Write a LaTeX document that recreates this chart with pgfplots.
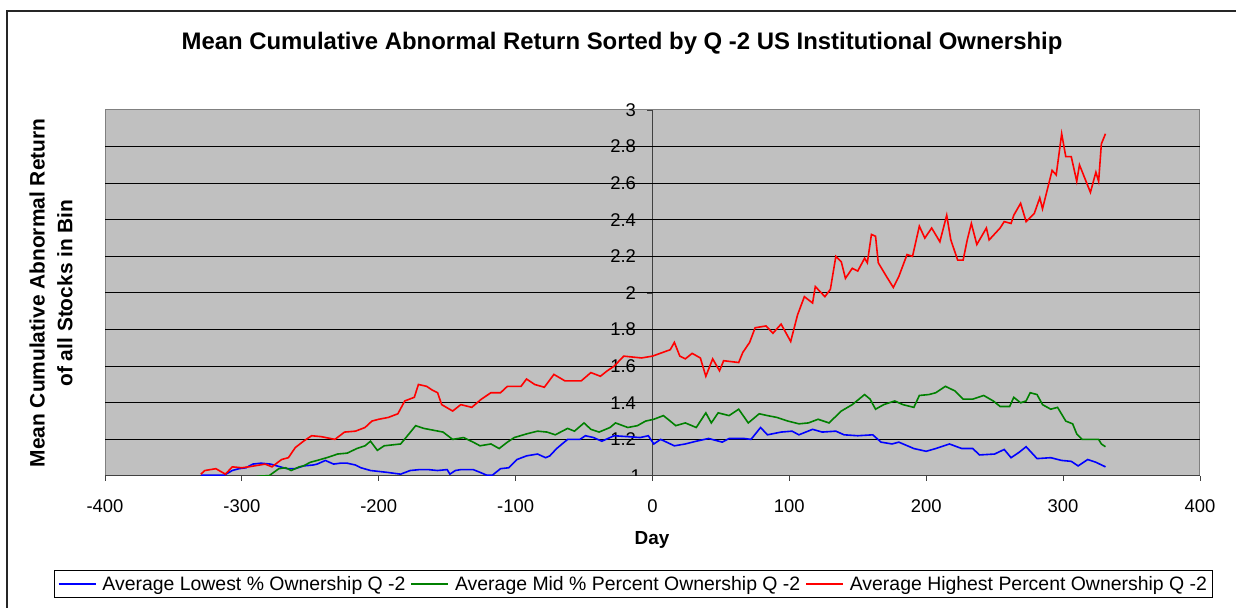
\documentclass[border=0pt]{standalone}
\usepackage{pgfplots}
\pgfplotsset{compat=1.18}
\usepackage{pgfplotstable}
\usepackage{fontspec}
\setmainfont{Liberation Sans}
\definecolor{plotgray}{HTML}{C0C0C0}
\definecolor{xlblue}{HTML}{0000FF}
\definecolor{xlgreen}{HTML}{008000}
\definecolor{xlred}{HTML}{FF0000}

\pgfplotstableread{
day val
-330 1.004
-320 1.004
-313 1.004
-307 1.03
-302 1.04
-297 1.045
-292 1.065
-286 1.07
-279 1.065
-272 1.05
-267 1.04
-261 1.04
-255 1.055
-248 1.06
-245 1.065
-239 1.085
-233 1.065
-228 1.07
-223 1.07
-217 1.06
-213 1.045
-206 1.03
-200 1.025
-194 1.02
-184 1.01
-177 1.03
-170 1.035
-164 1.035
-157 1.03
-150 1.035
-148 1.01
-144 1.03
-140 1.035
-131 1.035
-126 1.02
-121 1.004
-117 1.004
-111 1.04
-105 1.045
-99 1.09
-92 1.11
-84 1.12
-78 1.10
-75 1.11
-70 1.15
-62 1.2
-53 1.2
-49 1.22
-43 1.21
-37 1.19
-28 1.22
-18 1.215
-9 1.21
-3 1.22
1 1.175
6 1.20
16 1.165
24 1.175
32 1.19
41 1.205
51 1.185
56 1.205
67 1.205
72 1.2
79 1.265
84 1.225
94 1.24
102 1.245
107 1.225
117 1.255
124 1.24
134 1.245
140 1.225
150 1.22
161 1.225
167 1.185
175 1.175
180 1.185
191 1.15
200 1.135
207 1.15
217 1.175
226 1.15
234 1.15
239 1.115
250 1.12
257 1.145
262 1.10
268 1.13
273 1.16
281 1.095
291 1.10
299 1.085
306 1.08
311 1.055
318 1.09
324 1.075
331 1.05
}\lowest

\pgfplotstableread{
day val
-330 0.99
-310 0.98
-295 0.99
-286 1.0
-280 1.002
-273 1.04
-268 1.045
-264 1.03
-258 1.05
-255 1.055
-250 1.075
-245 1.085
-238 1.10
-230 1.12
-223 1.125
-216 1.15
-210 1.165
-206 1.19
-201 1.14
-196 1.165
-190 1.17
-184 1.175
-179 1.22
-173 1.275
-167 1.26
-160 1.25
-153 1.24
-146 1.20
-138 1.21
-131 1.185
-126 1.165
-118 1.175
-112 1.15
-106 1.185
-101 1.21
-92 1.23
-84 1.245
-77 1.24
-71 1.225
-62 1.26
-57 1.245
-50 1.29
-45 1.255
-39 1.24
-31 1.265
-27 1.29
-18 1.265
-11 1.275
-5 1.30
1 1.31
8 1.33
13 1.30
17 1.275
24 1.29
32 1.265
39 1.345
43 1.29
48 1.345
56 1.33
63 1.365
70 1.29
78 1.34
84 1.33
91 1.32
99 1.30
107 1.285
114 1.29
121 1.31
129 1.29
138 1.355
146 1.39
155 1.445
159 1.42
163 1.365
169 1.39
177 1.41
183 1.39
191 1.375
195 1.44
202 1.445
207 1.455
214 1.49
221 1.465
227 1.42
234 1.42
242 1.44
249 1.41
254 1.38
261 1.38
264 1.43
269 1.40
273 1.41
276 1.455
281 1.445
285 1.39
291 1.365
296 1.375
302 1.30
307 1.285
310 1.23
314 1.20
326 1.20
328 1.175
331 1.16
}\mid

\pgfplotstableread{
day val
-330 1.01
-327 1.03
-319 1.04
-312 1.01
-307 1.05
-300 1.045
-295 1.05
-283 1.065
-278 1.05
-271 1.09
-266 1.10
-261 1.155
-255 1.19
-249 1.22
-242 1.215
-232 1.20
-225 1.24
-217 1.245
-210 1.265
-205 1.30
-200 1.31
-193 1.32
-186 1.34
-181 1.41
-174 1.43
-171 1.50
-165 1.49
-161 1.47
-157 1.455
-154 1.39
-146 1.355
-140 1.39
-132 1.375
-125 1.42
-118 1.455
-111 1.455
-106 1.49
-96 1.49
-92 1.53
-86 1.50
-79 1.485
-72 1.555
-64 1.52
-52 1.52
-45 1.565
-38 1.545
-33 1.575
-28 1.60
-21 1.655
-8 1.645
0 1.655
13 1.69
16 1.73
20 1.655
24 1.64
29 1.67
35 1.645
39 1.545
44 1.64
49 1.575
52 1.63
63 1.62
66 1.675
71 1.73
75 1.81
83 1.82
88 1.78
94 1.83
101 1.735
106 1.88
111 1.98
117 1.945
119 2.035
126 1.98
130 2.02
134 2.2
138 2.17
141 2.08
146 2.135
150 2.12
155 2.19
157 2.165
160 2.32
163 2.31
165 2.165
171 2.09
176 2.03
180 2.09
186 2.21
190 2.2
195 2.365
199 2.3
204 2.355
210 2.28
215 2.425
218 2.29
223 2.18
227 2.18
230 2.29
233 2.38
237 2.265
244 2.355
246 2.29
254 2.355
257 2.39
262 2.38
264 2.425
269 2.49
273 2.39
279 2.435
283 2.52
285 2.46
289 2.58
292 2.67
295 2.645
299 2.87
302 2.745
306 2.745
310 2.61
312 2.70
316 2.625
320 2.55
324 2.66
326 2.61
328 2.815
331 2.87
}\highest

\begin{document}
\begin{tikzpicture}[x=1bp,y=1bp]
\path[use as bounding box] (0,0) rectangle (1236,608);
\draw[line width=2bp, black!85] (7,-20) -- (7,597) -- (1260,597);
\node[font=\bfseries\fontsize{24}{27}\selectfont] at (622,565)
  {Mean Cumulative Abnormal Return Sorted by Q -2 US Institutional Ownership};
\node[font=\bfseries\fontsize{21}{28}\selectfont, rotate=90, align=center] at (51,315)
  {Mean Cumulative Abnormal Return\\of all Stocks in Bin};
\node[font=\bfseries\fontsize{19}{22}\selectfont] at (652,68) {Day};
\begin{axis}[
  at={(105bp,132bp)}, anchor=south west,
  width=1095bp, height=366bp, scale only axis,
  xmin=-400, xmax=400, ymin=1, ymax=3,
  axis x line=bottom, axis y line=center,
  axis line style={-, draw=black!75, line width=1bp},
  axis background/.style={fill=plotgray, draw=gray, line width=1bp},
  xtick={-400,-300,-200,-100,0,100,200,300,400},
  ytick={1,1.2,1.4,1.6,1.8,2,2.2,2.4,2.6,2.8,3},
  extra y ticks={1.2,1.4,1.6,1.8,2,2.2,2.4,2.6,2.8},
  extra y tick labels={},
  extra y tick style={grid=major, major tick length=0pt},
  grid style={black, line width=1bp},
  tick align=outside,
  major tick length=5bp,
  tick style={black!75, line width=0.8bp},
  ticklabel style={font=\fontsize{18.5}{20}\selectfont},
  /pgf/number format/assume math mode=true,
  xticklabel style={yshift=-15bp},
  yticklabel style={xshift=-8bp},
  legend columns=3,
  legend style={at={(0.4826,-0.295)}, anchor=center, draw=black, line width=0.8bp,
    fill=white, font=\fontsize{19.5}{22}\selectfont, inner xsep=3bp, inner ysep=4bp,
    /tikz/every even column/.append style={column sep=3bp}},
  legend image code/.code={\draw[#1] (0bp,0bp) -- (37bp,0bp); \path (41bp,0bp);},
]
\addplot[xlblue, line width=1.6bp] table[x=day, y=val] {\lowest};
\addlegendentry{Average Lowest \% Ownership Q -2}
\addplot[xlgreen, line width=1.6bp] table[x=day, y=val] {\mid};
\addlegendentry{Average Mid \% Percent Ownership Q -2}
\addplot[xlred, line width=1.6bp] table[x=day, y=val] {\highest};
\addlegendentry{Average Highest Percent Ownership Q -2}
\node[anchor=east, xshift=-8bp, font=\fontsize{18.5}{20}\selectfont] at (axis cs:0,1) {1};
\end{axis}
\end{tikzpicture}
\end{document}
